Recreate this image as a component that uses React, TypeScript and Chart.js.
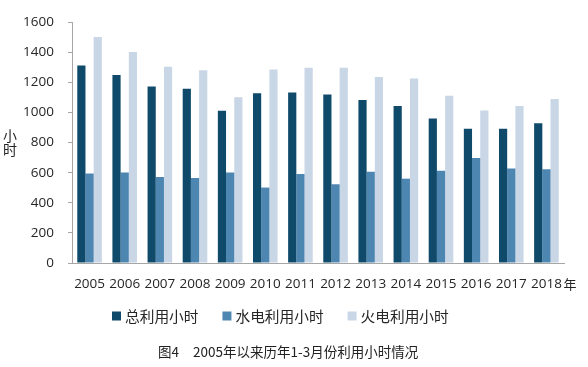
import React, { useEffect, useRef } from "react";
import { Chart, registerables } from "chart.js";

Chart.register(...registerables);

const categories = ["2005", "2006", "2007", "2008", "2009", "2010", "2011", "2012", "2013", "2014", "2015", "2016", "2017", "2018"];
const totalHours = [1312, 1249, 1172, 1158, 1011, 1127, 1133, 1119, 1082, 1043, 959, 892, 892, 929];
const hydroHours = [595, 601, 571, 565, 601, 501, 591, 523, 606, 560, 612, 698, 628, 622];
const thermalHours = [1501, 1402, 1303, 1280, 1101, 1286, 1296, 1296, 1235, 1226, 1111, 1013, 1043, 1089];
const seriesNames = ["总利用小时", "水电利用小时", "火电利用小时"];
const yTicks = [0, 200, 400, 600, 800, 1000, 1200, 1400, 1600];
const yTitle = ["小", "时"];
const xUnit = "年";
const captionHead = "图4";
const captionBody = "2005年以来历年1-3月份利用小时情况";

const colors = ["#0f4a6b", "#4e86b2", "#c8d6e6"];
const cjk = '"Noto Sans CJK SC", "Open Sans", sans-serif';

const overlay = {
  id: "overlay",
  beforeDraw(chart: any) {
    const ctx = chart.ctx;
    ctx.save();
    ctx.fillStyle = "#ffffff";
    ctx.fillRect(0, 0, chart.width, chart.height);
    ctx.restore();
  },
  afterDraw(chart: any) {
    const ctx = chart.ctx;
    ctx.save();
    ctx.fillStyle = "#262626";
    ctx.textBaseline = "middle";
    ctx.font = `14px ${cjk}`;
    ctx.textAlign = "center";
    ctx.fillText(yTitle[0], 10, 136);
    ctx.fillText(yTitle[1], 10, 150);
    ctx.font = `13px ${cjk}`;
    ctx.fillText(xUnit, 570, 284);
    ctx.textAlign = "left";
    ctx.font = `14.7px ${cjk}`;
    let bx = 112;
    chart.data.datasets.forEach((ds: any) => {
      ctx.fillStyle = ds.backgroundColor;
      ctx.fillRect(bx, 311.5, 9, 9);
      ctx.fillStyle = "#262626";
      ctx.fillText(ds.label, bx + 13, 316);
      bx = bx + 13 + ctx.measureText(ds.label).width + 24;
    });
    ctx.fillStyle = "#222222";
    ctx.font = `13.5px ${cjk}`;
    ctx.fillText(captionHead, 158, 352);
    ctx.fillText(captionBody, 193, 352);
    ctx.restore();
  },
};

export default function App() {
  const ref = useRef<HTMLCanvasElement | null>(null);
  useEffect(() => {
    document.body.style.margin = "0";
    const chart = new Chart(ref.current as HTMLCanvasElement, {
      type: "bar",
      data: {
        labels: categories,
        datasets: [
          { label: seriesNames[0], data: totalHours, backgroundColor: colors[0] },
          { label: seriesNames[1], data: hydroHours, backgroundColor: colors[1] },
          { label: seriesNames[2], data: thermalHours, backgroundColor: colors[2] },
        ],
      },
      options: {
        animation: false,
        responsive: false,
        maintainAspectRatio: false,
        layout: { padding: { left: 0, right: 24, top: 21, bottom: 74 } },
        datasets: { bar: { categoryPercentage: 0.7, barPercentage: 1 } },
        plugins: { legend: { display: false }, tooltip: { enabled: false } },
        scales: {
          x: {
            grid: { display: false, drawTicks: false },
            border: { display: true, color: "#a6a6a6", width: 1 },
            ticks: {
              color: "#262626",
              font: { family: '"Open Sans", sans-serif', size: 13.5 },
              padding: 13,
              maxRotation: 0,
              autoSkip: false,
            },
            afterFit: (s: any) => { s.height = 30; },
          },
          y: {
            min: 0,
            max: 1600,
            afterBuildTicks: (s: any) => { s.ticks = yTicks.map((v) => ({ value: v })); },
            grid: { display: true, drawOnChartArea: false, drawTicks: true, tickLength: 4, color: "#a6a6a6" },
            border: { display: true, color: "#a6a6a6", width: 1 },
            ticks: {
              color: "#262626",
              font: { family: '"Open Sans", sans-serif', size: 13.5 },
              padding: 14,
              callback: (v: any) => String(v),
            },
            afterFit: (s: any) => { s.width = 72; },
          },
        },
      },
      plugins: [overlay],
    });
    return () => chart.destroy();
  }, []);
  return (
    <canvas
      ref={ref}
      width={588}
      height={367}
      style={{ position: "fixed", left: 0, top: 0, width: 588, height: 367 }}
    />
  );
}
